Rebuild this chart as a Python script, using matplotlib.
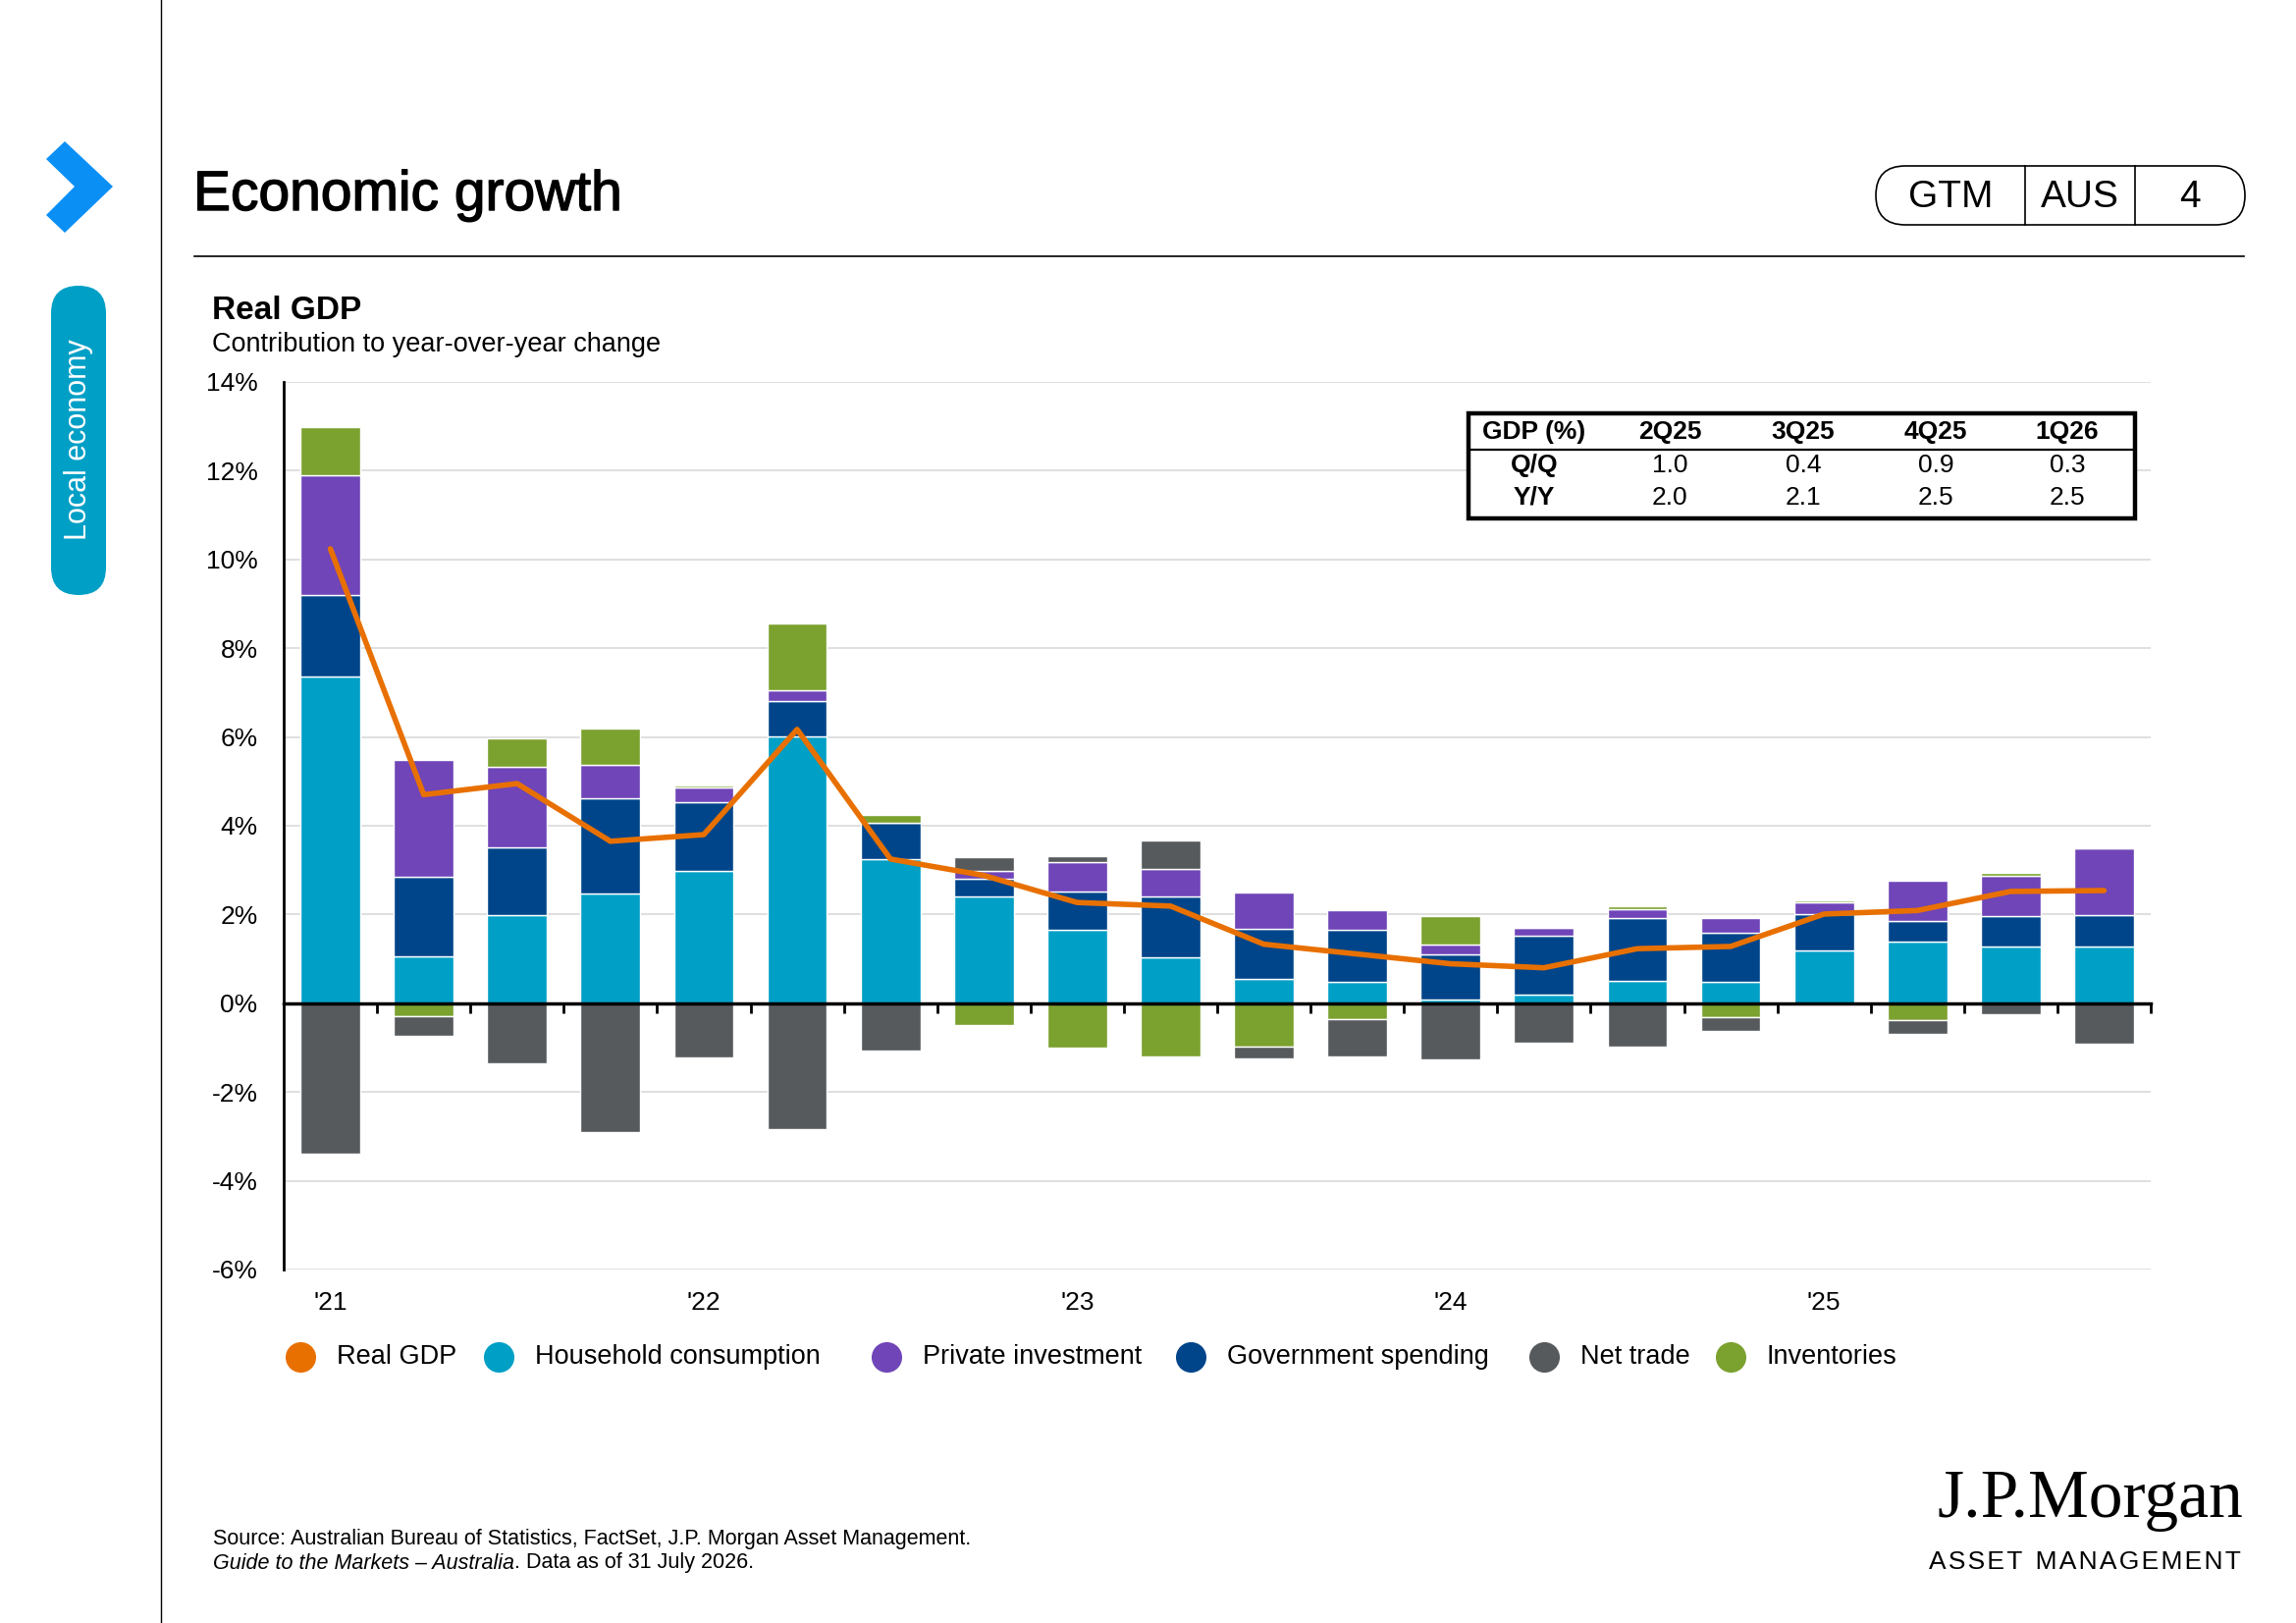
import matplotlib
matplotlib.use("Agg")
import matplotlib.pyplot as plt
import matplotlib.transforms as mtransforms
import matplotlib.patheffects as pe
from matplotlib.patches import Polygon, FancyBboxPatch, Rectangle
import numpy as np

plt.rcParams['font.family'] = ['Liberation Sans', 'DejaVu Sans']

# quarters shown on the chart
quarters = ['1Q21', '2Q21', '3Q21', '4Q21', '1Q22', '2Q22', '3Q22', '4Q22',
            '1Q23', '2Q23', '3Q23', '4Q23', '1Q24', '2Q24', '3Q24', '4Q24',
            '1Q25', '2Q25', '3Q25', '4Q25']
year_labels = ["'21", "'22", "'23", "'24", "'25"]

# contributions to y/y change (ppt)
household = [7.37, 1.06, 1.99, 2.48, 2.98, 6.01, 3.25, 2.41, 1.66, 1.03,
             0.54, 0.48, 0.09, 0.20, 0.51, 0.48, 1.19, 1.39, 1.28, 1.28]
government = [1.83, 1.80, 1.52, 2.13, 1.54, 0.81, 0.81, 0.39, 0.86, 1.38,
              1.14, 1.17, 1.01, 1.32, 1.42, 1.10, 0.82, 0.47, 0.69, 0.71]
private_inv = [2.70, 2.62, 1.81, 0.76, 0.34, 0.24, 0.00, 0.19, 0.67, 0.62,
               0.82, 0.45, 0.22, 0.17, 0.20, 0.33, 0.27, 0.90, 0.91, 1.50]
inventories = [1.08, -0.30, 0.66, 0.81, 0.05, 1.49, 0.19, -0.49, -0.99, -1.21,
               -0.97, -0.36, 0.64, 0.00, 0.06, -0.31, 0.03, -0.39, 0.06, 0.00]
net_trade = [-3.40, -0.43, -1.35, -2.90, -1.22, -2.84, -1.06, 0.31, 0.13, 0.63,
             -0.28, -0.83, -1.27, -0.90, -0.97, -0.31, 0.00, -0.29, -0.25, -0.91]
real_gdp = [10.24, 4.70, 4.95, 3.65, 3.80, 6.17, 3.25, 2.88, 2.27, 2.19,
            1.33, 1.11, 0.89, 0.80, 1.23, 1.28, 2.01, 2.09, 2.52, 2.54]

# table
tbl_cols = ['2Q25', '3Q25', '4Q25', '1Q26']
tbl_qq = ['1.0', '0.4', '0.9', '0.3']
tbl_yy = ['2.0', '2.1', '2.5', '2.5']

c_hh = '#009FC6'
c_gov = '#00458A'
c_priv = '#6F45B8'
c_inv = '#7BA12F'
c_nt = '#575A5D'
c_gdp = '#E87000'

W, H = 2339, 1653
fig = plt.figure(figsize=(W / 100, H / 100), dpi=100)

ax = fig.add_axes([289 / W, 1 - 1293 / H, 1902 / W, 904 / H])
x = np.arange(len(quarters))

series = [(household, c_hh), (government, c_gov), (private_inv, c_priv),
          (inventories, c_inv), (net_trade, c_nt)]
pos_bot = np.zeros(len(x))
neg_bot = np.zeros(len(x))
for vals, col in series:
    v = np.array(vals)
    bot = np.where(v >= 0, pos_bot, neg_bot)
    ax.bar(x, v, 0.64, bottom=bot, color=col, edgecolor='white', linewidth=1, zorder=2)
    pos_bot += np.where(v >= 0, v, 0)
    neg_bot += np.where(v < 0, v, 0)

ax.plot(x, real_gdp, color=c_gdp, lw=4, solid_capstyle='round', zorder=3)

ax.set_ylim(-6, 14)
ax.set_xlim(-0.5, 19.48)
yt = np.arange(-6, 15, 2)
ax.set_yticks(yt)
ax.set_yticklabels([f'{v}%' for v in yt], fontsize=19)
ax.tick_params(axis='y', length=0, pad=19)
ax.grid(axis='y', color='#DCDCDC', lw=1.3, zorder=0)
ax.set_axisbelow(True)
ax.set_xticks(np.arange(0.5, 20, 1))
ax.set_xticklabels([])
ax.tick_params(axis='x', length=7, width=2, direction='out', color='black')
for s in ['top', 'right']:
    ax.spines[s].set_visible(False)
ax.spines['left'].set_linewidth(2)
ax.spines['bottom'].set_position(('data', 0))
ax.spines['bottom'].set_linewidth(2.5)
ax.spines['bottom'].set_zorder(4)

trans = mtransforms.blended_transform_factory(ax.transData, ax.transAxes)
for i, lab in enumerate(year_labels):
    ax.text(i * 4, -0.038, lab, transform=trans, ha='center', va='center', fontsize=19)

# overlay in pixel coordinates
ov = fig.add_axes([0, 0, 1, 1], facecolor='none')
ov.set_xlim(0, W)
ov.set_ylim(H, 0)
ov.axis('off')

ov.plot([164, 164], [0, H], color='black', lw=1)
ov.add_patch(Polygon([(47, 162), (66, 144), (115, 190), (66, 237), (47, 219), (76, 190)],
                     closed=True, color='#0A8FF5', lw=0))
ov.add_patch(FancyBboxPatch((52 + 28, 291 + 28), 0, 315 - 56,
                            boxstyle='round,pad=28', color='#009FC6', lw=0))
ov.text(80, 448, 'Local economy', rotation=90, color='white', fontsize=22,
        ha='center', va='center')

ov.text(197, 214, 'Economic growth', fontsize=41, va='baseline', ha='left',
        path_effects=[pe.withStroke(linewidth=1.0, foreground='black')])
ov.plot([198, 2286], [261, 261], color='black', lw=1.2)

ov.add_patch(FancyBboxPatch((1911 + 30, 169 + 30), 376 - 60, 0,
                            boxstyle='round,pad=30', facecolor='white',
                            edgecolor='black', lw=1.2))
ov.plot([2063, 2063], [169, 229], color='black', lw=1.2)
ov.plot([2175, 2175], [169, 229], color='black', lw=1.2)
for xx, t in [(1987, 'GTM'), (2119, 'AUS'), (2231, '4')]:
    ov.text(xx, 201, t, fontsize=28, ha='center', va='center')

ov.text(216, 325, 'Real GDP', fontsize=24, fontweight='bold', va='baseline')
ov.text(216, 358, 'Contribution to year-over-year change', fontsize=19.5, va='baseline')

# GDP table
ov.add_patch(Rectangle((1496, 421), 679, 107, facecolor='white', edgecolor='black',
                       lw=3.2, zorder=5))
ov.plot([1496, 2175], [458, 458], color='black', lw=1.6, zorder=6)
col_x = [1701, 1837, 1972, 2106]
ov.text(1563, 440, 'GDP (%)', fontsize=19, fontweight='bold', ha='center', va='center', zorder=6)
ov.text(1563, 474, 'Q/Q', fontsize=19, fontweight='bold', ha='center', va='center', zorder=6)
ov.text(1563, 507, 'Y/Y', fontsize=19, fontweight='bold', ha='center', va='center', zorder=6)
for cx, h, q, y in zip(col_x, tbl_cols, tbl_qq, tbl_yy):
    ov.text(cx, 440, h, fontsize=19, fontweight='bold', ha='center', va='center', zorder=6)
    ov.text(cx, 474, q, fontsize=19, ha='center', va='center', zorder=6)
    ov.text(cx, 507, y, fontsize=19, ha='center', va='center', zorder=6)

# legend
leg = [('Real GDP', c_gdp, 306), ('Household consumption', c_hh, 508),
       ('Private investment', c_priv, 903), ('Government spending', c_gov, 1213),
       ('Net trade', c_nt, 1573), ('Inventories', c_inv, 1763)]
for name, col, lx in leg:
    ov.scatter([lx], [1382], s=500, color=col, lw=0)
    ov.text(lx + 37, 1382, name, fontsize=19.5, va='center', ha='left')

# source
ov.text(217, 1567, 'Source: Australian Bureau of Statistics, FactSet, J.P. Morgan Asset Management.',
        fontsize=15.5, va='center')
t1 = ov.text(217, 1592, 'Guide to the Markets \u2013 Australia', fontsize=15.5,
             style='italic', va='center')
fig.canvas.draw()
bb = t1.get_window_extent()
ov.text(bb.x1, 1592, '. Data as of 31 July 2026.', fontsize=15.5, va='center')

# logo
ov.text(2285, 1545, 'J.P.Morgan', family=['Liberation Serif', 'DejaVu Serif'],
        fontsize=50, ha='right', va='baseline')
ov.text(2283, 1598, 'A S S E T   M A N A G E M E N T'.replace('   ', '\u2002').replace(' ', '\u200a'),
        fontsize=19, ha='right', va='baseline')

fig.savefig('out.png', dpi=100)
